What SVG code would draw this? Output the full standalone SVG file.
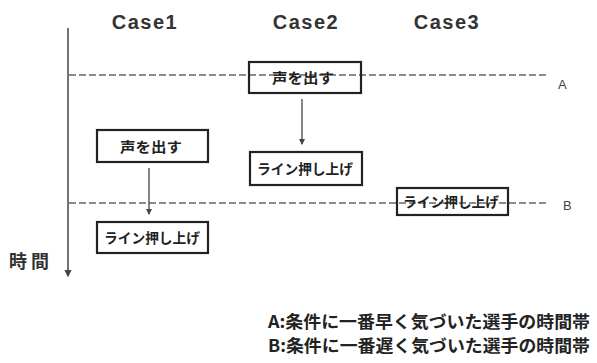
<svg xmlns="http://www.w3.org/2000/svg" width="597" height="363" viewBox="0 0 597 363">
<defs>
<style>
.case{font-family:"Liberation Sans","Noto Sans CJK JP",sans-serif;font-weight:bold;font-size:20px;fill:#333;text-anchor:middle;letter-spacing:1.5px}
.box{fill:none;stroke:#222;stroke-width:2.2}
.lbl{font-family:"Noto Sans CJK JP",sans-serif;font-weight:bold;font-size:14px;fill:#222}
.dash{stroke:#666;stroke-width:1.3;stroke-dasharray:7 3;fill:none}
.arr{stroke:#444;stroke-width:1.3;fill:none;marker-end:url(#ah)}
.leg{font-family:"Noto Sans CJK JP",sans-serif;font-weight:bold;font-size:17px;fill:#222}
.ab{font-family:"Liberation Sans",sans-serif;font-size:13px;fill:#444}
</style>
<marker id="ah" viewBox="0 0 6 6" refX="5" refY="3" markerWidth="5" markerHeight="5" orient="auto"><path d="M0,0 L6,3 L0,6 Z" fill="#444"/></marker>
</defs>
<rect width="597" height="363" fill="#fff"/>
<text class="case" x="145" y="29">Case1</text>
<text class="case" x="306" y="29">Case2</text>
<text class="case" x="447" y="29">Case3</text>
<text x="9" y="268" textLength="40" style="font-family:'Noto Sans CJK JP',sans-serif;font-weight:bold;font-size:18px;fill:#333">時間</text>
<g id="connectors">
<line x1="68" y1="28" x2="68" y2="276" stroke="#444" stroke-width="1.5" marker-end="url(#ah)"/>
<line class="dash" x1="69" y1="75" x2="548" y2="75"/>
<line class="dash" x1="69" y1="203" x2="548" y2="203"/>
<line class="arr" x1="302" y1="99" x2="302" y2="144"/>
<line class="arr" x1="149" y1="168" x2="149" y2="214"/>
</g>
<text class="ab" x="558" y="89">A</text>
<text class="ab" x="563" y="210">B</text>
<g id="case2-voice"><rect class="box" x="249" y="62" width="112" height="31"/><text class="lbl" x="272" y="83" textLength="62" lengthAdjust="spacingAndGlyphs">声を出す</text></g>
<g id="case2-push"><rect class="box" x="250" y="152" width="112" height="33"/><text class="lbl" x="257" y="174" textLength="96" lengthAdjust="spacingAndGlyphs">ライン押し上げ</text></g>
<g id="case3-push"><rect class="box" x="397" y="188" width="111" height="27"/><text class="lbl" x="403" y="207" textLength="96" lengthAdjust="spacingAndGlyphs">ライン押し上げ</text></g>
<g id="case1-voice"><rect class="box" x="97" y="130" width="111" height="32"/><text class="lbl" x="120" y="152" textLength="62" lengthAdjust="spacingAndGlyphs">声を出す</text></g>
<g id="case1-push"><rect class="box" x="97" y="222" width="111" height="31"/><text class="lbl" x="104" y="243" textLength="96" lengthAdjust="spacingAndGlyphs">ライン押し上げ</text></g>
<text class="leg" x="268" y="328" textLength="322" lengthAdjust="spacingAndGlyphs">A:条件に一番早く気づいた選手の時間帯</text>
<text class="leg" x="268" y="352" textLength="322" lengthAdjust="spacingAndGlyphs">B:条件に一番遅く気づいた選手の時間帯</text>
</svg>
